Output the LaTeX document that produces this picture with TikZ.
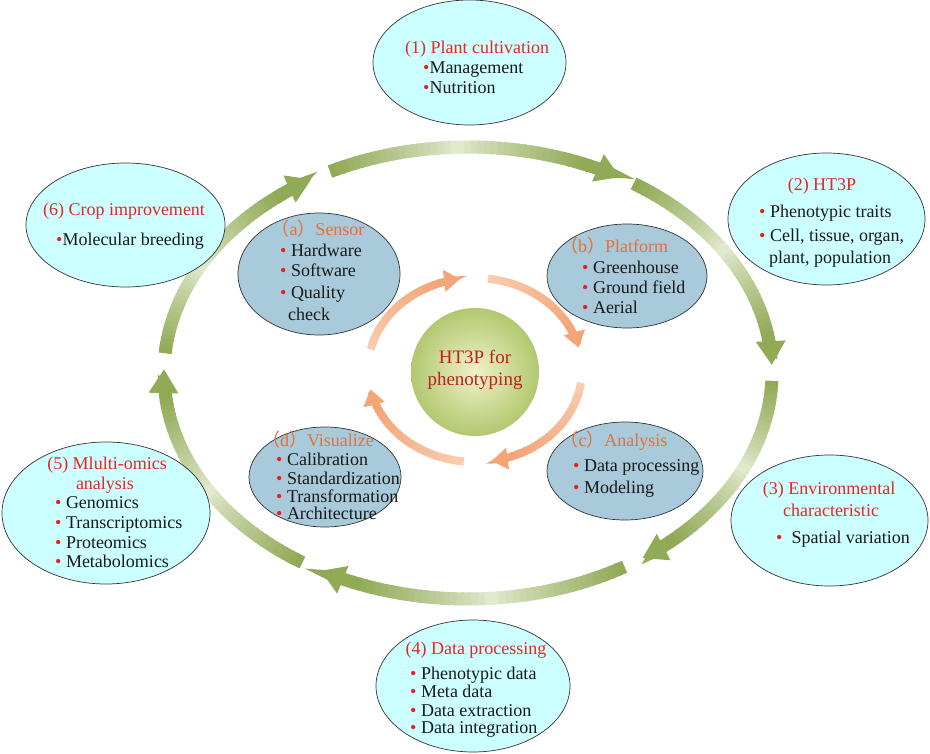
\documentclass[tikz,border=0pt]{standalone}
\usepackage{fontspec}
\setmainfont{Liberation Serif}
\newfontfamily\cjkfont{Noto Sans CJK SC}
\usetikzlibrary{shapes.geometric,arrows.meta}
\definecolor{outerfill}{RGB}{204,255,255}
\definecolor{innerfill}{RGB}{168,202,218}
\definecolor{titlered}{RGB}{235,35,35}
\definecolor{titleorange}{RGB}{232,112,52}
\definecolor{bulletred}{RGB}{235,30,30}
\definecolor{centerred}{RGB}{185,35,35}
\definecolor{ringdark}{RGB}{145,170,86}
\definecolor{ringlight}{RGB}{230,236,212}
\definecolor{peachdark}{RGB}{243,165,120}
\definecolor{peachlight}{RGB}{250,214,190}
\definecolor{textblack}{RGB}{25,25,25}
\tikzset{
  outerell/.style={ellipse, draw=black!80, line width=0.7pt, fill=outerfill, inner sep=0pt},
  innerell/.style={ellipse, draw=black!80, line width=0.7pt, fill=innerfill, inner sep=0pt},
  txt/.style={inner sep=0pt, font=\fontsize{18}{20}\selectfont, text=textblack, anchor=base west},
  ttl/.style={inner sep=0pt, font=\fontsize{18}{20}\selectfont, text=titlered, anchor=base},
  ittl/.style={inner sep=0pt, font=\fontsize{18}{20}\selectfont, text=titleorange, anchor=base},
  ctxt/.style={inner sep=0pt, font=\fontsize{19}{22}\selectfont, text=centerred, anchor=base},
}
\newcommand\bul{{\color{bulletred}•}}
\newcommand\lp{{\cjkfont （}}
\newcommand\rp{{\cjkfont ）}}
% outer ring: centre (468,373), radii 304 x 226
\newcommand\outerarc[2]{%
  \pgfmathsetmacro\oaS{#1}%
  \pgfmathsetmacro\oaE{#2-7}%
  \foreach \k in {0,...,39}{%
    \pgfmathsetmacro\aA{\oaS+(\oaE-\oaS)*\k/40}%
    \pgfmathsetmacro\aB{\oaS+(\oaE-\oaS)*(\k+1.4)/40}%
    \pgfmathsetmacro\pp{100*abs(2*\k/39-1)^0.8}%
    \draw[line width=13pt, ringdark!\pp!ringlight]
      ({468+304*cos(\aA)},{373+226*sin(\aA)})
      arc[start angle=\aA, end angle=\aB, x radius=304, y radius=226];
  }%
  \draw[line width=13pt, ringdark, -{Triangle[width=28pt,length=24pt]}]
    ({468+304*cos(\oaE)},{373+226*sin(\oaE)})
    arc[start angle=\oaE, end angle=#2, x radius=304, y radius=226];
}
% inner ring: centre (475,370), radii 107 x 92
\newcommand\innerarc[2]{%
  \pgfmathsetmacro\iaS{#1}%
  \pgfmathsetmacro\iaE{#2-12}%
  \foreach \k in {0,...,23}{%
    \pgfmathsetmacro\aA{\iaS+(\iaE-\iaS)*\k/24}%
    \pgfmathsetmacro\aB{\iaS+(\iaE-\iaS)*(\k+1.4)/24}%
    \pgfmathsetmacro\pp{20+80*\k/23}%
    \draw[line width=8pt, peachdark!\pp!peachlight]
      ({475+107*cos(\aA)},{370+92*sin(\aA)})
      arc[start angle=\aA, end angle=\aB, x radius=107, y radius=92];
  }%
  \draw[line width=8pt, peachdark, -{Triangle[width=21pt,length=16pt]}]
    ({475+107*cos(\iaE)},{370+92*sin(\iaE)})
    arc[start angle=\iaE, end angle=#2, x radius=107, y radius=92];
}
\begin{document}
\begin{tikzpicture}[x=1pt,y=-1pt]
\useasboundingbox (0,0) rectangle (930,754);
\fill[white] (0,0) rectangle (930,754);

% outer ring arrows
\outerarc{185}{239}
\outerarc{243}{300}
\outerarc{303}{358}
\outerarc{362}{415}
\outerarc{419}{479}
\outerarc{483}{541}

% inner ring arrows
\innerarc{193}{262}
\innerarc{277}{346}
\innerarc{368}{441}
\innerarc{456}{528}

% centre circle
\shade[inner color={rgb,255:red,240;green,242;blue,200}, outer color={rgb,255:red,178;green,200;blue,112}]
  (475,372) circle [radius=64];
\node[circle, minimum size=128pt, inner sep=0pt] (c) at (475,372) {};
\node[ctxt] (c1) at (475,363) {HT3P for};
\node[ctxt] (c2) at (475,385) {phenotyping};

% outer ellipses
\node[outerell, minimum width=193pt, minimum height=125pt] (e1) at (469.5,62.5) {};
\node[outerell, minimum width=197pt, minimum height=132pt] (e2) at (826.5,219) {};
\node[outerell, minimum width=197pt, minimum height=131pt] (e3) at (829.5,520.5) {};
\node[outerell, minimum width=194pt, minimum height=132pt] (e4) at (473,686) {};
\node[outerell, minimum width=208pt, minimum height=142pt] (e5) at (106,513) {};
\node[outerell, minimum width=199pt, minimum height=124pt] (e6) at (125.5,225) {};

% inner ellipses
\node[innerell, minimum width=162pt, minimum height=122pt] (ia) at (319,274) {};
\node[innerell, minimum width=160pt, minimum height=104pt] (ib) at (627,276) {};
\node[innerell, minimum width=156pt, minimum height=98pt] (ic) at (625,471) {};
\node[innerell, minimum width=152pt, minimum height=100pt] (id) at (325,477) {};

% (1)
\node[ttl] (t1) at (477,54) {(1) Plant cultivation};
\node[txt] (t1a) at (423,74) {\bul Management};
\node[txt] (t1b) at (423,94) {\bul Nutrition};
% (2)
\node[ttl] (t2) at (822,191) {(2) HT3P};
\node[txt] (t2a) at (759,218) {\bul\ Phenotypic traits};
\node[txt] (t2b) at (759,242) {\bul\ Cell, tissue, organ,};
\node[txt] (t2c) at (769,264) {plant, population};
% (3)
\node[ttl] (t3) at (829,494) {(3) Environmental};
\node[ttl] (t3b) at (831,516) {characteristic};
\node[txt] (t3a) at (776,543) {\bul\ \ Spatial variation};
% (4)
\node[ttl] (t4) at (476,654) {(4) Data processing};
\node[txt] (t4a) at (410,679) {\bul\ Phenotypic data};
\node[txt] (t4b) at (410,697) {\bul\ Meta data};
\node[txt] (t4c) at (410,716) {\bul\ Data extraction};
\node[txt] (t4d) at (410,733) {\bul\ Data integration};
% (5)
\node[ttl] (t5) at (107,469) {(5) Mlulti-omics};
\node[ttl] (t5b) at (105,489) {analysis};
\node[txt] (t5c) at (55,508) {\bul\ Genomics};
\node[txt] (t5d) at (55,528) {\bul\ Transcriptomics};
\node[txt] (t5e) at (55,548) {\bul\ Proteomics};
\node[txt] (t5f) at (55,567) {\bul\ Metabolomics};
% (6)
\node[ttl] (t6) at (124,216) {(6) Crop improvement};
\node[txt] (t6a) at (56,246) {\bul Molecular breeding};

% (a)
\node[ittl] (ta) at (318,236) {\lp a\rp Sensor};
\node[txt] (taa) at (280,257) {\bul\ Hardware};
\node[txt] (tab) at (280,277) {\bul\ Software};
\node[txt] (tac) at (280,299) {\bul\ Quality};
\node[txt] (tad) at (288,321) {check};
% (b)
\node[ittl] (tb) at (614,253) {\lp b\rp Platform};
\node[txt] (tba) at (582,274) {\bul\ Greenhouse};
\node[txt] (tbb) at (582,294) {\bul\ Ground field};
\node[txt] (tbc) at (582,314) {\bul\ Aerial};
% (c)
\node[ittl] (tc) at (614,446) {\lp c\rp Analysis};
\node[txt] (tca) at (573,471) {\bul\ Data processing};
\node[txt] (tcb) at (573,493) {\bul\ Modeling};
% (d)
\node[ittl] (td) at (318,446) {\lp d\rp Visualize};
\node[txt] (tda) at (276,465) {\bul\ Calibration};
\node[txt] (tdb) at (276,484) {\bul\ Standardization};
\node[txt] (tdc) at (276,502) {\bul\ Transformation};
\node[txt] (tdd) at (276,519) {\bul\ Architecture};
\end{tikzpicture}
\end{document}
